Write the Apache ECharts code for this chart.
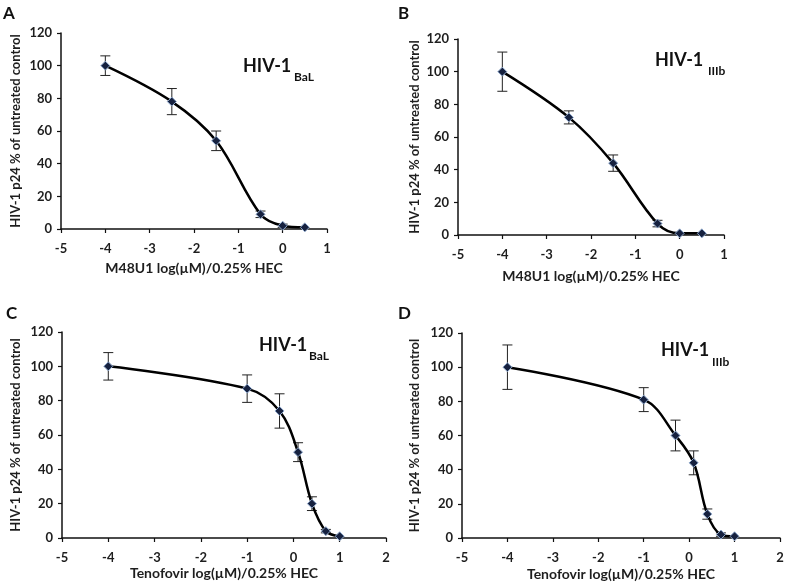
<!DOCTYPE html>
<html>
<head>
<meta charset="utf-8">
<script src="https://cdn.jsdelivr.net/npm/echarts@6/dist/echarts.min.js"></script>
<style>html,body{margin:0;padding:0;background:#fff}#c{width:787px;height:582px}</style>
</head>
<body>
<div id="c"></div>
<script>
// Panel A: M48U1 vs HIV-1 BaL
const xA = [-4, -2.5, -1.5, -0.5, 0, 0.5];
const yA = [100, 78, 54, 9, 2, 1];
const eA = [6, 8, 6, 2, 1, 0];
// Panel B: M48U1 vs HIV-1 IIIb
const xB = [-4, -2.5, -1.5, -0.5, 0, 0.5];
const yB = [100, 72, 44, 7, 1, 1];
const eB = [12, 4, 5, 2, 0, 0];
// Panel C: Tenofovir vs HIV-1 BaL
const xC = [-4, -1, -0.3, 0.1, 0.4, 0.7, 1];
const yC = [100, 87, 74, 50, 20, 4, 1];
const eC = [8, 8, 10, 5.5, 4, 1, 0];
// Panel D: Tenofovir vs HIV-1 IIIb
const xD = [-4, -1, -0.3, 0.1, 0.4, 0.7, 1];
const yD = [100, 81, 60, 44, 14, 2, 1];
const eD = [13, 7, 9, 7, 3, 1, 0];

const panelLetters = ['A', 'B', 'C', 'D'];
const strains = ['BaL', 'IIIb', 'BaL', 'IIIb'];
const xTitles = ['M48U1 log(\u00B5M)/0.25% HEC', 'M48U1 log(\u00B5M)/0.25% HEC',
                 'Tenofovir log(\u00B5M)/0.25% HEC', 'Tenofovir log(\u00B5M)/0.25% HEC'];
const yTitle = 'HIV-1 p24 % of untreated control';
const xMaxes = [1, 1, 2, 2];

const FONT = 'Lato, "Open Sans", sans-serif';
const TXT = '#1e1e1e';

const grids = [
  {left: 61, top: 33, width: 266, height: 196},
  {left: 458, top: 39, width: 266, height: 196},
  {left: 62, top: 332, width: 324, height: 206},
  {left: 462, top: 333, width: 318, height: 206}
];
const xNameGap = [32, 34, 28, 29];
const yNameGap = [39, 37, 40, 41];

const panels = [[xA, yA, eA], [xB, yB, eB], [xC, yC, eC], [xD, yD, eD]];

const xAxes = [], yAxes = [], series = [];
panels.forEach((p, i) => {
  const axisCommon = {
    axisTick: {show: true, inside: false, length: 4, lineStyle: {color: '#111', width: 1.2}},
    splitLine: {show: false}
  };
  xAxes.push(Object.assign({}, axisCommon, {
    type: 'value', gridIndex: i, min: -5, max: xMaxes[i], interval: 1,
    axisLine: {show: true, onZero: false, lineStyle: {color: '#111', width: 1.5}},
    axisLabel: {color: TXT, fontFamily: FONT, fontWeight: 'bold', fontSize: 13, margin: 13},
    name: xTitles[i], nameLocation: 'middle', nameGap: xNameGap[i],
    nameTextStyle: {color: TXT, fontFamily: FONT, fontWeight: 'bold', fontSize: 14}
  }));
  yAxes.push(Object.assign({}, axisCommon, {
    type: 'value', gridIndex: i, min: 0, max: 120, interval: 20,
    axisLine: {show: true, onZero: false, lineStyle: {color: '#111', width: 1.5}},
    axisLabel: {color: TXT, fontFamily: FONT, fontWeight: 'bold', fontSize: 13, margin: 9},
    name: yTitle, nameLocation: 'middle', nameGap: yNameGap[i],
    nameTextStyle: {color: TXT, fontFamily: FONT, fontWeight: 'bold', fontSize: 13}
  }));
  const [xs, ys, es] = p;
  series.push({
    type: 'custom', xAxisIndex: i, yAxisIndex: i, z: 1,
    data: xs.map((x, k) => [x, ys[k], es[k]]),
    renderItem: function (params, api) {
      const x = api.value(0), y = api.value(1), e = api.value(2);
      if (!e) return null;
      const t = api.coord([x, y + e]), b = api.coord([x, y - e]);
      const w = 5;
      const st = {stroke: '#222', lineWidth: 1};
      return {type: 'group', children: [
        {type: 'line', shape: {x1: t[0], y1: t[1], x2: b[0], y2: b[1]}, style: st},
        {type: 'line', shape: {x1: t[0] - w, y1: t[1], x2: t[0] + w, y2: t[1]}, style: st},
        {type: 'line', shape: {x1: b[0] - w, y1: b[1], x2: b[0] + w, y2: b[1]}, style: st}
      ]};
    }
  });
  series.push({
    type: 'line', xAxisIndex: i, yAxisIndex: i, z: 3,
    data: xs.map((x, k) => [x, ys[k]]),
    smooth: 0.35,
    symbol: 'diamond', symbolSize: 9,
    lineStyle: {color: '#000', width: 2.5},
    itemStyle: {color: '#16213f', borderColor: '#8ea8cc', borderWidth: 1},
    emphasis: {disabled: true}
  });
});

const letterPos = [[3, 5], [398, 5], [6, 305], [398, 305]];
const mainPos = [[243, 57], [655, 51], [259, 336], [661, 341]];
const subPos = [[294, 71], [708, 65], [309, 350], [712, 356]];

const graphic = [];
for (let i = 0; i < 4; i++) {
  graphic.push({type: 'text', left: letterPos[i][0], top: letterPos[i][1],
    style: {text: panelLetters[i], fontFamily: FONT, fontWeight: 'bold', fontSize: 17, fill: '#111'}});
  graphic.push({type: 'text', left: mainPos[i][0], top: mainPos[i][1],
    style: {text: 'HIV-1', fontFamily: FONT, fontWeight: 'bold', fontSize: 18, fill: '#111'}});
  graphic.push({type: 'text', left: subPos[i][0], top: subPos[i][1],
    style: {text: strains[i], fontFamily: FONT, fontWeight: 'bold', fontSize: 12, fill: '#111'}});
}

const chart = echarts.init(document.getElementById('c'), null, {renderer: 'canvas'});
chart.setOption({
  animation: false,
  backgroundColor: '#fff',
  grid: grids,
  xAxis: xAxes,
  yAxis: yAxes,
  series: series,
  graphic: graphic
});
</script>
</body>
</html>
